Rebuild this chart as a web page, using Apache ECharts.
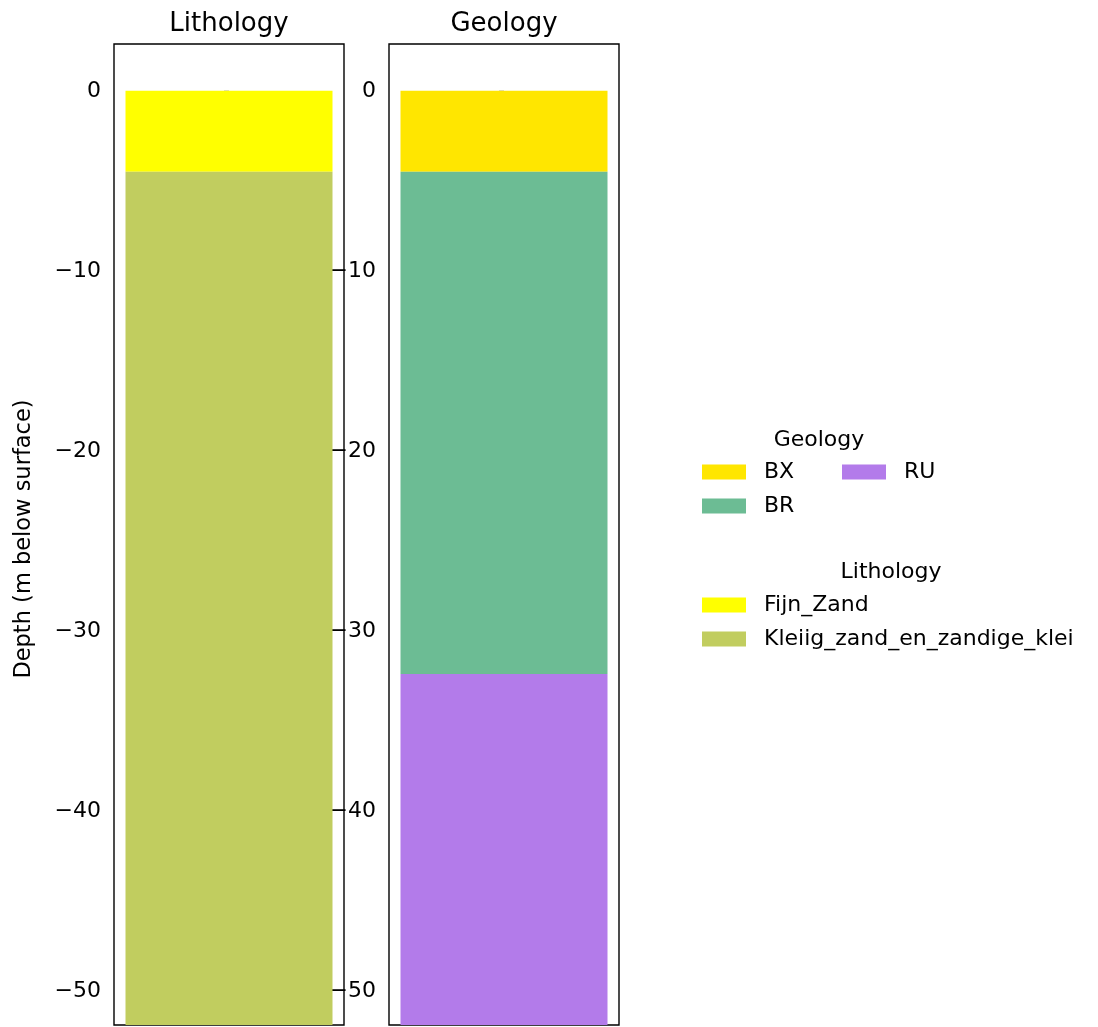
<!DOCTYPE html>
<html>
<head>
<meta charset="utf-8">
<script src="https://cdn.jsdelivr.net/npm/echarts@6/dist/echarts.min.js"></script>
<style>
  html, body { margin: 0; padding: 0; background: #fff; }
  #chart { width: 1098px; height: 1027px; }
</style>
</head>
<body>
<div id="chart"></div>
<script>
// Borehole log: lithology and geology units by depth (m, negative = below surface)
const lithologyUnits = ['Fijn_Zand', 'Kleiig_zand_en_zandige_klei'];
const lithologyTops = [0, -4.5];
const lithologyBottoms = [-4.5, -52];
const lithologyColors = ['#ffff00', '#c1cd5f'];

const geologyUnits = ['BX', 'BR', 'RU'];
const geologyTops = [0, -4.5, -32.4];
const geologyBottoms = [-4.5, -32.4, -52];
const geologyColors = ['#ffe600', '#6cbc94', '#b37bea'];

const depthTicks = [0, -10, -20, -30, -40, -50];

const FONT = 'DejaVu Sans';
const HALF_WIDTH = 0.45;
const Y_MIN = -51.9;
const Y_MAX = 2.6;

const chart = echarts.init(document.getElementById('chart'), null, { renderer: 'canvas' });

function renderLayer(params, api) {
  const top = api.value(1);
  const bottom = api.value(2);
  const p1 = api.coord([-HALF_WIDTH, top]);
  const p2 = api.coord([HALF_WIDTH, bottom]);
  const cs = params.coordSys;
  const shape = echarts.graphic.clipRectByRect(
    { x: p1[0], y: p1[1], width: p2[0] - p1[0], height: p2[1] - p1[1] },
    { x: cs.x, y: cs.y, width: cs.width, height: cs.height }
  );
  return shape && { type: 'rect', shape: shape, style: { fill: api.visual('color') } };
}

function layerSeries(names, tops, bottoms, colors, axisIndex) {
  return names.map((name, i) => ({
    type: 'custom',
    name: name,
    xAxisIndex: axisIndex,
    yAxisIndex: axisIndex,
    itemStyle: { color: colors[i] },
    encode: { x: 0, y: [1, 2] },
    renderItem: renderLayer,
    data: [[0, tops[i], bottoms[i]]]
  }));
}

const minusFmt = v => (v < 0 ? '\u2212' + Math.abs(v) : String(v));

function yAxis(gridIndex, withName) {
  return {
    type: 'value',
    gridIndex: gridIndex,
    min: Y_MIN,
    max: Y_MAX,
    axisLine: { show: false },
    splitLine: { show: false },
    axisTick: { show: true, length: 5, customValues: depthTicks, lineStyle: { color: '#000', width: 1.3 } },
    axisLabel: {
      customValues: depthTicks,
      formatter: minusFmt,
      margin: 13,
      color: '#000',
      fontFamily: FONT,
      fontSize: 22,
      padding: [6, 0, 0, 0]
    },
    name: withName ? 'Depth (m below surface)' : '',
    nameLocation: 'middle',
    nameRotate: 90,
    nameGap: 78,
    nameTextStyle: { color: '#000', fontFamily: FONT, fontSize: 22.5, padding: [0, 9, 0, 0] }
  };
}

function xAxis(gridIndex) {
  return {
    type: 'value', gridIndex: gridIndex, min: -0.5, max: 0.5, show: false,
    axisLine: { show: false, onZero: false }, axisTick: { show: false },
    axisLabel: { show: false }, splitLine: { show: false }
  };
}

const legendText = { color: '#000', fontFamily: FONT, fontSize: 22, lineHeight: 22, padding: [0, 0, 0, 13] };
const legendBase = {
  orient: 'vertical', icon: 'rect', itemWidth: 44, itemHeight: 15,
  itemGap: 12, padding: 0, selectedMode: false, textStyle: legendText
};

const titleStyle = (size) => ({ color: '#000', fontFamily: FONT, fontSize: size, fontWeight: 'normal' });

chart.setOption({
  animation: false,
  backgroundColor: '#fff',
  title: [
    { text: 'Lithology', left: 229, top: 11, padding: 0, textAlign: 'center', textStyle: titleStyle(26) },
    { text: 'Geology', left: 504, top: 11, padding: 0, textAlign: 'center', textStyle: titleStyle(26) },
    { text: 'Geology', left: 819, top: 429, padding: 0, textAlign: 'center', textStyle: titleStyle(22) },
    { text: 'Lithology', left: 891, top: 561, padding: 0, textAlign: 'center', textStyle: titleStyle(22) }
  ],
  legend: [
    Object.assign({}, legendBase, { data: ['BX', 'BR'], left: 702, top: 461 }),
    Object.assign({}, legendBase, { data: ['RU'], left: 842, top: 461 }),
    Object.assign({}, legendBase, { data: lithologyUnits.slice(), left: 702, top: 594 })
  ],
  grid: [
    { left: 114, top: 44, width: 230, height: 981, show: true, borderColor: '#000', borderWidth: 1.4, backgroundColor: 'transparent' },
    { left: 389, top: 44, width: 230, height: 981, show: true, borderColor: '#000', borderWidth: 1.4, backgroundColor: 'transparent' }
  ],
  xAxis: [xAxis(0), xAxis(1)],
  yAxis: [yAxis(0, true), yAxis(1, false)],
  series: [
    ...layerSeries(lithologyUnits, lithologyTops, lithologyBottoms, lithologyColors, 0),
    ...layerSeries(geologyUnits, geologyTops, geologyBottoms, geologyColors, 1)
  ]
});
</script>
</body>
</html>
